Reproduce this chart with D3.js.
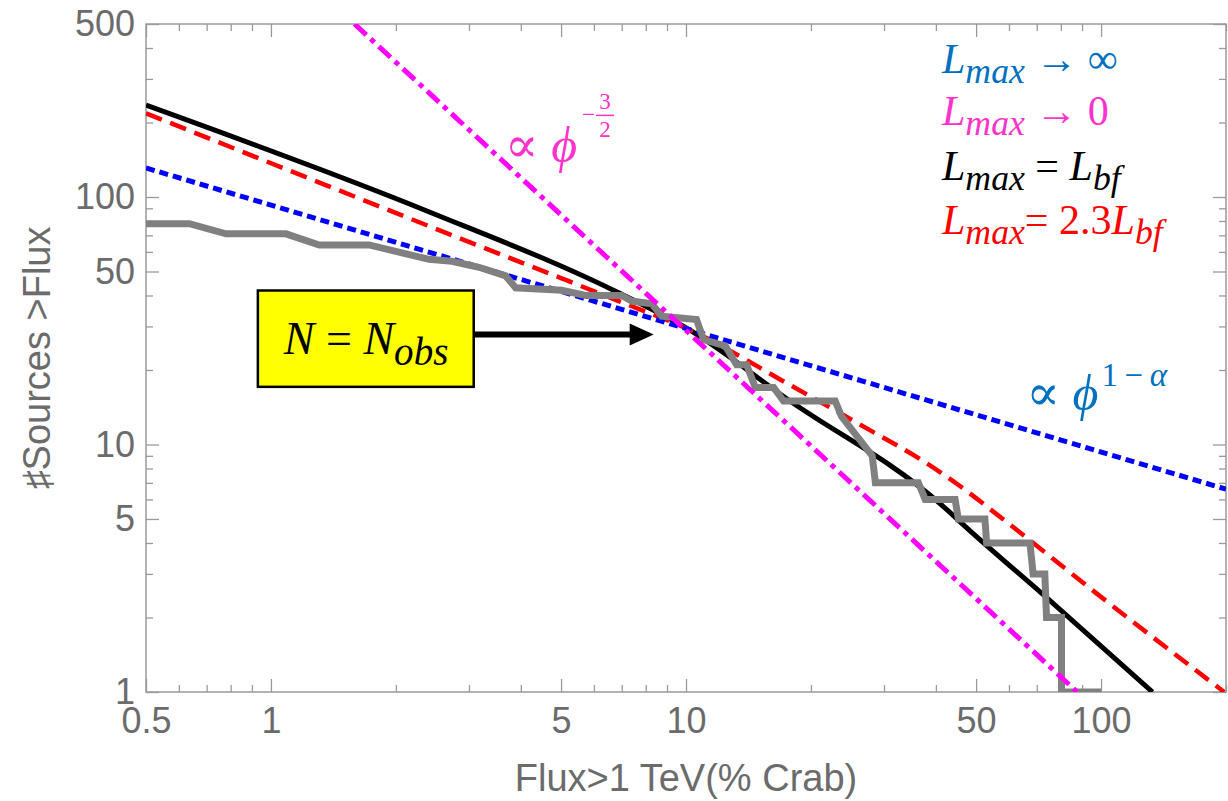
<!DOCTYPE html>
<html>
<head>
<meta charset="utf-8">
<script src="https://cdn.jsdelivr.net/npm/d3@7"></script>
<style>
  body { margin: 0; background: #fff; }
  svg { display: block; }
</style>
</head>
<body>
<div id="chart"></div>
<script>
// values: flux in % Crab, number of sources above that flux

// L_max -> infinity (pure power law)
const blueFlux = [0.5, 200];
const blueCount = [131, 6.6];

// L_max -> 0, proportional to phi^(-3/2)
const magentaFlux = [1.59, 87.6];
const magentaCount = [500, 1];

// L_max = L_bf
const blackFlux = [0.5, 2.4, 6.9, 10.1, 17.7, 40.8, 48.2, 75.1, 133];
const blackCount = [235, 87.2, 40.9, 29.3, 15.1, 5.8, 4.5, 2.35, 1];

// L_max = 2.3 L_bf
const redFlux = [0.5, 2.42, 6.93, 10.1, 17.8, 27.8, 36.6, 45.7, 57.1, 99.4, 198];
const redCount = [218, 75.9, 37.8, 29.3, 17.4, 11.4, 8.74, 6.8, 5.1, 2.44, 1];

// observed sources (gray staircase)
const obsFlux = [0.5, 0.636, 0.779, 1.087, 1.307, 1.724, 2.404, 2.731, 3.171, 3.677, 3.886,
  5.02, 5.73, 7.0, 7.4, 8.27, 8.74, 10.6, 11.03, 12.44, 13.24, 14.0, 14.69, 16.26, 17.18,
  22.88, 23.69, 28.1, 28.6, 36.3, 37.7, 44.5, 45.3, 52.5, 53.0, 67.4, 68.6, 73.2, 73.9,
  80.3, 80.3, 100];
const obsCount = [78, 78, 71, 71, 64, 64, 56, 55, 52, 48, 43,
  42, 40, 40, 38, 37, 33, 32, 26.5, 25, 21, 21, 17, 17, 15,
  15, 13, 9, 7, 7, 6, 6, 5, 5, 4, 4, 3, 3, 2,
  2, 1, 1];

// ticks
const xMajor = [0.5, 1, 5, 10, 50, 100];
const xMinor = [0.6, 0.7, 0.8, 0.9, 2, 3, 4, 6, 7, 8, 9, 20, 30, 40, 60, 70, 80, 90, 200];
const yMajor = [1, 5, 10, 50, 100, 500];
const yMinor = [2, 3, 4, 6, 7, 8, 9, 20, 30, 40, 60, 70, 80, 90, 200, 300, 400];

// annotation anchors (data coordinates)
const boxFlux = [0.93, 3.08];
const boxCount = [41.9, 17.1];
const arrowTip = [8.36, 27.8];
const magLabelAt = [3.66, 138];
const blueLabelAt = [66, 13.8];

const width = 1228;
const height = 801;
const margin = { top: 24, right: 2, bottom: 109, left: 146 };
const axisColor = "#9a9a9a";
const labelColor = "#6b6b6b";
const sansFont = "'Liberation Sans', Arial, sans-serif";
const mathFont = "'Liberation Serif', 'DejaVu Serif', serif";

const svg = d3.select("#chart")
    .append("svg")
    .attr("width", width)
    .attr("height", height);

const x = d3.scaleLog()
    .domain([0.5, 200])
    .range([margin.left, width - margin.right]);

const y = d3.scaleLog()
    .domain([1, 500])
    .range([height - margin.bottom, margin.top]);

svg.append("clipPath")
    .attr("id", "plotClip")
    .append("rect")
    .attr("x", margin.left)
    .attr("y", margin.top)
    .attr("width", width - margin.left - margin.right)
    .attr("height", height - margin.top - margin.bottom);

// axes: inward ticks on all four sides, labels bottom and left only
function styleAxis(g) {
    g.select(".domain").remove();
    g.selectAll(".tick line").attr("stroke", axisColor).attr("stroke-width", 1.3);
    g.selectAll(".tick text")
        .attr("fill", labelColor)
        .style("font-family", sansFont)
        .style("font-size", "36px");
}

const plotBottom = y.range()[0];
const plotTop = y.range()[1];
const plotLeft = x.range()[0];
const plotRight = x.range()[1];

svg.append("g").attr("transform", `translate(0,${plotBottom})`)
    .call(d3.axisBottom(x).tickValues(xMajor).tickSize(-13).tickPadding(15).tickFormat(d => d))
    .call(styleAxis);
svg.append("g").attr("transform", `translate(0,${plotBottom})`)
    .call(d3.axisBottom(x).tickValues(xMinor).tickSize(-7).tickFormat(() => ""))
    .call(styleAxis);
svg.append("g").attr("transform", `translate(${plotLeft},0)`)
    .call(d3.axisLeft(y).tickValues(yMajor).tickSize(-13).tickPadding(11).tickFormat(d => d))
    .call(styleAxis);
svg.append("g").attr("transform", `translate(${plotLeft},0)`)
    .call(d3.axisLeft(y).tickValues(yMinor).tickSize(-7).tickFormat(() => ""))
    .call(styleAxis);
svg.append("g").attr("transform", `translate(0,${plotTop})`)
    .call(d3.axisTop(x).tickValues(xMajor).tickSize(-13).tickFormat(() => ""))
    .call(styleAxis);
svg.append("g").attr("transform", `translate(0,${plotTop})`)
    .call(d3.axisTop(x).tickValues(xMinor).tickSize(-7).tickFormat(() => ""))
    .call(styleAxis);
svg.append("g").attr("transform", `translate(${plotRight},0)`)
    .call(d3.axisRight(y).tickValues(yMajor).tickSize(-13).tickFormat(() => ""))
    .call(styleAxis);
svg.append("g").attr("transform", `translate(${plotRight},0)`)
    .call(d3.axisRight(y).tickValues(yMinor).tickSize(-7).tickFormat(() => ""))
    .call(styleAxis);

svg.append("rect")
    .attr("x", plotLeft).attr("y", plotTop)
    .attr("width", plotRight - plotLeft).attr("height", plotBottom - plotTop)
    .attr("fill", "none")
    .attr("stroke", axisColor)
    .attr("stroke-width", 1.5);

// axis titles
svg.append("text")
    .attr("x", (plotLeft + plotRight) / 2)
    .attr("y", 791)
    .attr("text-anchor", "middle")
    .attr("fill", labelColor)
    .style("font-family", sansFont)
    .style("font-size", "38px")
    .text("Flux>1 TeV(% Crab)");

svg.append("text")
    .attr("transform", `translate(50,${(plotTop + plotBottom) / 2}) rotate(-90)`)
    .attr("text-anchor", "middle")
    .attr("fill", labelColor)
    .style("font-family", sansFont)
    .style("font-size", "38px")
    .text("\u266FSources >Flux");

// curves
const zip = (xs, ys) => xs.map((v, i) => [v, ys[i]]);
const straight = d3.line().x(d => x(d[0])).y(d => y(d[1]));
const smooth = d3.line().x(d => x(d[0])).y(d => y(d[1])).curve(d3.curveMonotoneX);

const plot = svg.append("g").attr("clip-path", "url(#plotClip)");

plot.append("path")
    .attr("d", smooth(zip(blackFlux, blackCount)))
    .attr("fill", "none").attr("stroke", "#000").attr("stroke-width", 5);

plot.append("path")
    .attr("d", smooth(zip(redFlux, redCount)))
    .attr("fill", "none").attr("stroke", "#ff0000").attr("stroke-width", 4.5)
    .attr("stroke-dasharray", "17,9");

plot.append("path")
    .attr("d", straight(zip(blueFlux, blueCount)))
    .attr("fill", "none").attr("stroke", "#0000ff").attr("stroke-width", 5)
    .attr("stroke-dasharray", "9,5");

plot.append("path")
    .attr("d", straight(zip(obsFlux, obsCount)))
    .attr("fill", "none").attr("stroke", "#808080").attr("stroke-width", 7)
    .attr("stroke-linejoin", "miter");

plot.append("path")
    .attr("d", straight(zip(magentaFlux, magentaCount)))
    .attr("fill", "none").attr("stroke", "#ff00ff").attr("stroke-width", 5)
    .attr("stroke-dasharray", "16,6,5,6");

// math-style text: parts are [string, kind] with kind "n", "i", "sub"
function mathText(parent, px, py, parts, color, size) {
    const t = parent.append("text")
        .attr("x", px).attr("y", py)
        .attr("fill", color)
        .style("font-family", mathFont)
        .style("font-size", size + "px");
    let shift = 0;
    parts.forEach(([str, kind]) => {
        const target = kind === "sub" ? size * 0.24 : 0;
        const ts = t.append("tspan").attr("dy", target - shift).text(str);
        shift = target;
        if (kind === "sub") ts.style("font-size", (size * 0.85) + "px");
        if (kind === "i" || kind === "sub") ts.style("font-style", "italic");
    });
    return t;
}

// legend
const legendItems = [
    { color: "#0070c0", parts: [["L", "i"], ["max", "sub"], [" \u2192 \u221E", "n"]] },
    { color: "#ff33cc", parts: [["L", "i"], ["max", "sub"], [" \u2192 0", "n"]] },
    { color: "#000000", parts: [["L", "i"], ["max", "sub"], [" = ", "n"], ["L", "i"], ["bf", "sub"]] },
    { color: "#ff0000", parts: [["L", "i"], ["max", "sub"], ["= 2.3", "n"], ["L", "i"], ["bf", "sub"]] }
];
const legendY = [73, 125, 180, 234];
legendItems.forEach((d, i) => mathText(svg, 942, legendY[i], d.parts, d.color, 42));

// proportionality labels
const magX = x(magLabelAt[0]);
const magY = y(magLabelAt[1]);
const magText = mathText(svg, magX, magY, [["\u221D ", "n"], ["\u03D5", "i"]], "#ff33cc", 50);
const mw = magText.node().getComputedTextLength();
const expG = svg.append("g")
    .attr("fill", "#ff33cc")
    .style("font-family", mathFont)
    .style("font-size", "23px");
expG.append("text").attr("x", magX + mw + 5).attr("y", magY - 40).text("\u2212");
expG.append("text").attr("x", magX + mw + 28).attr("y", magY - 53).attr("text-anchor", "middle").text("3");
expG.append("line")
    .attr("x1", magX + mw + 19).attr("x2", magX + mw + 37)
    .attr("y1", magY - 47).attr("y2", magY - 47)
    .attr("stroke", "#ff33cc").attr("stroke-width", 1.5);
expG.append("text").attr("x", magX + mw + 28).attr("y", magY - 25).attr("text-anchor", "middle").text("2");

const bluX = x(blueLabelAt[0]);
const bluY = y(blueLabelAt[1]);
const bluText = mathText(svg, bluX, bluY, [["\u221D ", "n"], ["\u03D5", "i"]], "#0070c0", 50);
const bw = bluText.node().getComputedTextLength();
const supT = svg.append("text")
    .attr("x", bluX + bw + 3).attr("y", bluY - 24)
    .attr("fill", "#0070c0")
    .style("font-family", mathFont)
    .style("font-size", "33px");
supT.append("tspan").text("1\u2009\u2212\u2009");
supT.append("tspan").style("font-style", "italic").text("\u03B1");

// N = N_obs box with arrow
const bx0 = x(boxFlux[0]), bx1 = x(boxFlux[1]);
const by0 = y(boxCount[0]), by1 = y(boxCount[1]);
svg.append("rect")
    .attr("x", bx0).attr("y", by0)
    .attr("width", bx1 - bx0).attr("height", by1 - by0)
    .attr("fill", "#ffff00")
    .attr("stroke", "#000")
    .attr("stroke-width", 2.5);

mathText(svg, (bx0 + bx1) / 2 - 82, (by0 + by1) / 2 + 15,
    [["N", "i"], [" = ", "n"], ["N", "i"], ["obs", "sub"]], "#000", 46);

const tipX = x(arrowTip[0]);
const tipY = y(arrowTip[1]);
svg.append("line")
    .attr("x1", bx1).attr("x2", tipX - 20)
    .attr("y1", tipY).attr("y2", tipY)
    .attr("stroke", "#000").attr("stroke-width", 6);
svg.append("path")
    .attr("d", `M${tipX},${tipY} L${tipX - 24},${tipY - 11} L${tipX - 24},${tipY + 11} Z`)
    .attr("fill", "#000");
</script>
</body>
</html>
